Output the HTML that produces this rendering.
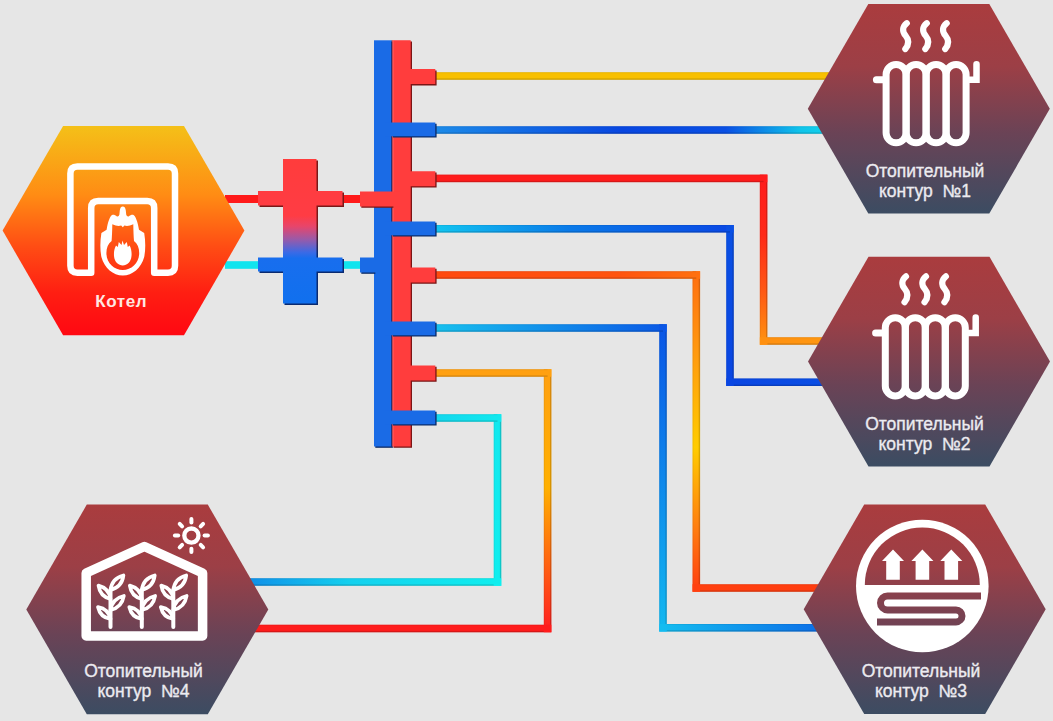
<!DOCTYPE html>
<html><head><meta charset="utf-8"><style>
html,body{margin:0;padding:0;background:#e6e6e6;overflow:hidden;}
svg{display:block;}
</style></head><body>
<svg width="1053" height="721" viewBox="0 0 1053 721">
<defs><linearGradient id="p1_0" gradientUnits="userSpaceOnUse" x1="436" y1="76" x2="850" y2="76"><stop offset="0" stop-color="#f8c000"/><stop offset="1" stop-color="#f8c000"/></linearGradient><linearGradient id="p2_0" gradientUnits="userSpaceOnUse" x1="436" y1="130" x2="850" y2="130"><stop offset="0" stop-color="#1c8ae8"/><stop offset="0.45" stop-color="#0846e0"/><stop offset="0.7" stop-color="#0a50e4"/><stop offset="0.88" stop-color="#10c4ea"/><stop offset="1" stop-color="#14dcec"/></linearGradient><linearGradient id="p3_0" gradientUnits="userSpaceOnUse" x1="436" y1="178.4" x2="763.6" y2="178.4"><stop offset="0" stop-color="#ff1c1c"/><stop offset="1" stop-color="#ff1c1c"/></linearGradient><linearGradient id="p3_1" gradientUnits="userSpaceOnUse" x1="763.6" y1="178.4" x2="763.6" y2="341"><stop offset="0" stop-color="#ff1c1c"/><stop offset="0.35" stop-color="#ff2a18"/><stop offset="0.7" stop-color="#ff5a14"/><stop offset="1" stop-color="#ff9010"/></linearGradient><linearGradient id="p3_2" gradientUnits="userSpaceOnUse" x1="763.6" y1="341" x2="850" y2="341"><stop offset="0" stop-color="#ff9010"/><stop offset="1" stop-color="#ff9a10"/></linearGradient><linearGradient id="p4_0" gradientUnits="userSpaceOnUse" x1="436" y1="228.8" x2="730" y2="228.8"><stop offset="0" stop-color="#12c4f0"/><stop offset="0.45" stop-color="#0a7ae8"/><stop offset="1" stop-color="#0a48e4"/></linearGradient><linearGradient id="p4_1" gradientUnits="userSpaceOnUse" x1="730" y1="228.8" x2="730" y2="382.2"><stop offset="0" stop-color="#0a50e4"/><stop offset="1" stop-color="#0a46e2"/></linearGradient><linearGradient id="p4_2" gradientUnits="userSpaceOnUse" x1="730" y1="382.2" x2="850" y2="382.2"><stop offset="0" stop-color="#0a46e2"/><stop offset="1" stop-color="#0a50e4"/></linearGradient><linearGradient id="p5_0" gradientUnits="userSpaceOnUse" x1="436" y1="275" x2="696.3" y2="275"><stop offset="0" stop-color="#ff4a10"/><stop offset="0.7" stop-color="#ff5410"/><stop offset="1" stop-color="#ff7010"/></linearGradient><linearGradient id="p5_1" gradientUnits="userSpaceOnUse" x1="696.3" y1="275" x2="696.3" y2="588"><stop offset="0" stop-color="#ff7010"/><stop offset="0.25" stop-color="#ff9a10"/><stop offset="0.55" stop-color="#ffcc00"/><stop offset="0.8" stop-color="#ff8010"/><stop offset="1" stop-color="#ff4010"/></linearGradient><linearGradient id="p5_2" gradientUnits="userSpaceOnUse" x1="696.3" y1="588" x2="850" y2="588"><stop offset="0" stop-color="#ff4010"/><stop offset="1" stop-color="#ff3c10"/></linearGradient><linearGradient id="p6_0" gradientUnits="userSpaceOnUse" x1="436" y1="328" x2="663" y2="328"><stop offset="0" stop-color="#18c0ee"/><stop offset="1" stop-color="#0a5ae6"/></linearGradient><linearGradient id="p6_1" gradientUnits="userSpaceOnUse" x1="663" y1="328" x2="663" y2="627.8"><stop offset="0" stop-color="#0a56e6"/><stop offset="1" stop-color="#12b8f0"/></linearGradient><linearGradient id="p6_2" gradientUnits="userSpaceOnUse" x1="663" y1="627.8" x2="850" y2="627.8"><stop offset="0" stop-color="#14bcf0"/><stop offset="1" stop-color="#0a60e6"/></linearGradient><linearGradient id="p7_0" gradientUnits="userSpaceOnUse" x1="436" y1="373" x2="547.6" y2="373"><stop offset="0" stop-color="#ffa010"/><stop offset="1" stop-color="#ffa010"/></linearGradient><linearGradient id="p7_1" gradientUnits="userSpaceOnUse" x1="547.6" y1="373" x2="547.6" y2="628.5"><stop offset="0" stop-color="#ffa010"/><stop offset="0.45" stop-color="#ffb000"/><stop offset="1" stop-color="#ff2020"/></linearGradient><linearGradient id="p7_2" gradientUnits="userSpaceOnUse" x1="547.6" y1="628.5" x2="250" y2="628.5"><stop offset="0" stop-color="#ff1c1c"/><stop offset="1" stop-color="#ff1c1c"/></linearGradient><linearGradient id="p8_0" gradientUnits="userSpaceOnUse" x1="436" y1="418" x2="497.5" y2="418"><stop offset="0" stop-color="#14d8ee"/><stop offset="1" stop-color="#12e8ee"/></linearGradient><linearGradient id="p8_1" gradientUnits="userSpaceOnUse" x1="497.5" y1="418" x2="497.5" y2="582"><stop offset="0" stop-color="#12e8ee"/><stop offset="1" stop-color="#10eeee"/></linearGradient><linearGradient id="p8_2" gradientUnits="userSpaceOnUse" x1="497.5" y1="582" x2="250" y2="582"><stop offset="0" stop-color="#10eeee"/><stop offset="0.6" stop-color="#14d0ee"/><stop offset="1" stop-color="#1090e8"/></linearGradient><linearGradient id="hexBoil" gradientUnits="userSpaceOnUse" x1="0" y1="126" x2="0" y2="335"><stop offset="0" stop-color="#f4c018"/><stop offset="0.33" stop-color="#ff8c14"/><stop offset="0.58" stop-color="#ff4c14"/><stop offset="0.8" stop-color="#ff1e12"/><stop offset="1" stop-color="#ff0812"/></linearGradient><linearGradient id="hexC1" gradientUnits="userSpaceOnUse" x1="0" y1="4" x2="0" y2="213"><stop offset="0" stop-color="#aa3c3e"/><stop offset="0.3" stop-color="#9c3f46"/><stop offset="0.62" stop-color="#6a4356"/><stop offset="1" stop-color="#3c4c62"/></linearGradient><linearGradient id="hexC2" gradientUnits="userSpaceOnUse" x1="0" y1="256" x2="0" y2="465"><stop offset="0" stop-color="#aa3c3e"/><stop offset="0.3" stop-color="#9c3f46"/><stop offset="0.62" stop-color="#6a4356"/><stop offset="1" stop-color="#3c4c62"/></linearGradient><linearGradient id="hexC3" gradientUnits="userSpaceOnUse" x1="0" y1="504" x2="0" y2="714"><stop offset="0" stop-color="#aa3c3e"/><stop offset="0.3" stop-color="#9c3f46"/><stop offset="0.62" stop-color="#6a4356"/><stop offset="1" stop-color="#3c4c62"/></linearGradient><linearGradient id="hexC4" gradientUnits="userSpaceOnUse" x1="0" y1="504" x2="0" y2="714"><stop offset="0" stop-color="#aa3c3e"/><stop offset="0.3" stop-color="#9c3f46"/><stop offset="0.62" stop-color="#6a4356"/><stop offset="1" stop-color="#3c4c62"/></linearGradient><linearGradient id="sepd" gradientUnits="userSpaceOnUse" x1="0" y1="159" x2="0" y2="305"><stop offset="0" stop-color="#7a1818"/><stop offset="0.45" stop-color="#7a1818"/><stop offset="0.64" stop-color="#0a2a70"/><stop offset="1" stop-color="#0a2a70"/></linearGradient><linearGradient id="sep" gradientUnits="userSpaceOnUse" x1="0" y1="159" x2="0" y2="305"><stop offset="0" stop-color="#ff3c3c"/><stop offset="0.39" stop-color="#ff3c44"/><stop offset="0.46" stop-color="#e8456a"/><stop offset="0.55" stop-color="#9a5aa8"/><stop offset="0.64" stop-color="#3a6ae6"/><stop offset="0.68" stop-color="#186eee"/><stop offset="1" stop-color="#1070ee"/></linearGradient></defs>
<rect width="1053" height="721" fill="#e6e6e6"/>
<rect x="436.00" y="72.20" width="414.00" height="7.6" fill="url(#p1_0)"/>
<rect x="436.00" y="126.20" width="414.00" height="7.6" fill="url(#p2_0)"/>
<rect x="436.00" y="174.60" width="331.40" height="7.6" fill="url(#p3_0)"/>
<rect x="759.80" y="174.60" width="7.6" height="170.20" fill="url(#p3_1)"/>
<rect x="759.80" y="337.20" width="90.20" height="7.6" fill="url(#p3_2)"/>
<rect x="436.00" y="225.00" width="297.80" height="7.6" fill="url(#p4_0)"/>
<rect x="726.20" y="225.00" width="7.6" height="161.00" fill="url(#p4_1)"/>
<rect x="726.20" y="378.40" width="123.80" height="7.6" fill="url(#p4_2)"/>
<rect x="436.00" y="271.20" width="264.10" height="7.6" fill="url(#p5_0)"/>
<rect x="692.50" y="271.20" width="7.6" height="320.60" fill="url(#p5_1)"/>
<rect x="692.50" y="584.20" width="157.50" height="7.6" fill="url(#p5_2)"/>
<rect x="436.00" y="324.20" width="230.80" height="7.6" fill="url(#p6_0)"/>
<rect x="659.20" y="324.20" width="7.6" height="307.40" fill="url(#p6_1)"/>
<rect x="659.20" y="624.00" width="190.80" height="7.6" fill="url(#p6_2)"/>
<rect x="436.00" y="369.20" width="115.40" height="7.6" fill="url(#p7_0)"/>
<rect x="543.80" y="369.20" width="7.6" height="263.10" fill="url(#p7_1)"/>
<rect x="250.00" y="624.70" width="301.40" height="7.6" fill="url(#p7_2)"/>
<rect x="436.00" y="414.20" width="65.30" height="7.6" fill="url(#p8_0)"/>
<rect x="493.70" y="414.20" width="7.6" height="171.60" fill="url(#p8_1)"/>
<rect x="250.00" y="578.20" width="251.30" height="7.6" fill="url(#p8_2)"/><rect x="436.00" y="78.40" width="414.00" height="1.4" fill="#000" opacity="0.16"/>
<rect x="436.00" y="72.20" width="414.00" height="1" fill="#000" opacity="0.06"/>
<rect x="436.00" y="132.40" width="414.00" height="1.4" fill="#000" opacity="0.16"/>
<rect x="436.00" y="126.20" width="414.00" height="1" fill="#000" opacity="0.06"/>
<rect x="436.00" y="180.80" width="327.60" height="1.4" fill="#000" opacity="0.16"/>
<rect x="436.00" y="174.60" width="327.60" height="1" fill="#000" opacity="0.06"/>
<rect x="766.00" y="182.20" width="1.4" height="155.00" fill="#000" opacity="0.16"/>
<rect x="759.80" y="182.20" width="1" height="155.00" fill="#000" opacity="0.06"/>
<rect x="767.40" y="343.40" width="82.60" height="1.4" fill="#000" opacity="0.16"/>
<rect x="767.40" y="337.20" width="82.60" height="1" fill="#000" opacity="0.06"/>
<rect x="436.00" y="231.20" width="294.00" height="1.4" fill="#000" opacity="0.16"/>
<rect x="436.00" y="225.00" width="294.00" height="1" fill="#000" opacity="0.06"/>
<rect x="732.40" y="232.60" width="1.4" height="145.80" fill="#000" opacity="0.16"/>
<rect x="726.20" y="232.60" width="1" height="145.80" fill="#000" opacity="0.06"/>
<rect x="733.80" y="384.60" width="116.20" height="1.4" fill="#000" opacity="0.16"/>
<rect x="733.80" y="378.40" width="116.20" height="1" fill="#000" opacity="0.06"/>
<rect x="436.00" y="277.40" width="260.30" height="1.4" fill="#000" opacity="0.16"/>
<rect x="436.00" y="271.20" width="260.30" height="1" fill="#000" opacity="0.06"/>
<rect x="698.70" y="278.80" width="1.4" height="305.40" fill="#000" opacity="0.16"/>
<rect x="692.50" y="278.80" width="1" height="305.40" fill="#000" opacity="0.06"/>
<rect x="700.10" y="590.40" width="149.90" height="1.4" fill="#000" opacity="0.16"/>
<rect x="700.10" y="584.20" width="149.90" height="1" fill="#000" opacity="0.06"/>
<rect x="436.00" y="330.40" width="227.00" height="1.4" fill="#000" opacity="0.16"/>
<rect x="436.00" y="324.20" width="227.00" height="1" fill="#000" opacity="0.06"/>
<rect x="665.40" y="331.80" width="1.4" height="292.20" fill="#000" opacity="0.16"/>
<rect x="659.20" y="331.80" width="1" height="292.20" fill="#000" opacity="0.06"/>
<rect x="666.80" y="630.20" width="183.20" height="1.4" fill="#000" opacity="0.16"/>
<rect x="666.80" y="624.00" width="183.20" height="1" fill="#000" opacity="0.06"/>
<rect x="436.00" y="375.40" width="111.60" height="1.4" fill="#000" opacity="0.16"/>
<rect x="436.00" y="369.20" width="111.60" height="1" fill="#000" opacity="0.06"/>
<rect x="550.00" y="376.80" width="1.4" height="247.90" fill="#000" opacity="0.16"/>
<rect x="543.80" y="376.80" width="1" height="247.90" fill="#000" opacity="0.06"/>
<rect x="250.00" y="630.90" width="293.80" height="1.4" fill="#000" opacity="0.16"/>
<rect x="250.00" y="624.70" width="293.80" height="1" fill="#000" opacity="0.06"/>
<rect x="436.00" y="420.40" width="61.50" height="1.4" fill="#000" opacity="0.16"/>
<rect x="436.00" y="414.20" width="61.50" height="1" fill="#000" opacity="0.06"/>
<rect x="499.90" y="421.80" width="1.4" height="156.40" fill="#000" opacity="0.16"/>
<rect x="493.70" y="421.80" width="1" height="156.40" fill="#000" opacity="0.06"/>
<rect x="250.00" y="584.40" width="243.70" height="1.4" fill="#000" opacity="0.16"/>
<rect x="250.00" y="578.20" width="243.70" height="1" fill="#000" opacity="0.06"/>
<rect x="225" y="195" width="40" height="8" fill="#ff1a1a"/>
<rect x="225" y="261.2" width="40" height="7.6" fill="#10e4ee"/>
<rect x="340" y="195" width="25" height="8" fill="#ff1a1a"/>
<rect x="340" y="261.2" width="25" height="7.6" fill="#10e4ee"/>
<path d="M283 159 H316.5 V191 H342.5 V205.5 H316.5 V257.6 H342.5 V271.5 H316.5 V303.5 H283 V271.5 H258 V257.6 H283 V205.5 H258 V191 H283 Z" fill="url(#sepd)" transform="translate(1.5,1.5)"/>
<path d="M283 159 H316.5 V191 H342.5 V205.5 H316.5 V257.6 H342.5 V271.5 H316.5 V303.5 H283 V271.5 H258 V257.6 H283 V205.5 H258 V191 H283 Z" fill="url(#sep)"/>
<rect x="375.3" y="41.599999999999994" width="17.6" height="406.2" fill="#0a2a66"/><rect x="374" y="40.3" width="17.6" height="406.2" fill="#1a6be6"/>
<path d="M392.2 40.3 H410.7 V69.1 H435.3 V84.1 H410.7 V171.2 H435.3 V186.2 H410.7 V267.5 H435.3 V282.5 H410.7 V365.5 H435.3 V380.5 H410.7 V446.5 H392.2 Z" fill="#7a1515" transform="translate(1.3,1.3)"/>
<path d="M392.2 40.3 H410.7 V69.1 H435.3 V84.1 H410.7 V171.2 H435.3 V186.2 H410.7 V267.5 H435.3 V282.5 H410.7 V365.5 H435.3 V380.5 H410.7 V446.5 H392.2 Z" fill="#ff3d3d"/>
<rect x="391.4" y="40.3" width="1" height="406.2" fill="#301030" opacity="0.7"/>
<rect x="392.4" y="40.3" width="1.2" height="406.2" fill="#ff8080" opacity="0.5"/>
<path d="M360 191.5 H392.2 V206.5 H360 Z" fill="#7a1515" transform="translate(1.3,1.3)"/>
<rect x="360" y="191.5" width="40" height="15" fill="#ff3d3d"/>
<path d="M360 257.5 H374 V272.5 H360 Z" fill="#0a2a66" transform="translate(1.3,1.3)"/>
<rect x="360" y="257.5" width="16" height="15" fill="#1a6be6"/>
<path d="M391.6 122.5 H435.3 V136.3 H391.6 Z" fill="#0a2a66" transform="translate(1.3,1.3)"/>
<rect x="385" y="122.5" width="50.3" height="13.8" fill="#1a6be6"/>
<path d="M391.6 221.5 H435.3 V235.3 H391.6 Z" fill="#0a2a66" transform="translate(1.3,1.3)"/>
<rect x="385" y="221.5" width="50.3" height="13.8" fill="#1a6be6"/>
<path d="M391.6 321.5 H435.3 V335.3 H391.6 Z" fill="#0a2a66" transform="translate(1.3,1.3)"/>
<rect x="385" y="321.5" width="50.3" height="13.8" fill="#1a6be6"/>
<path d="M391.6 410.5 H435.3 V424.3 H391.6 Z" fill="#0a2a66" transform="translate(1.3,1.3)"/>
<rect x="385" y="410.5" width="50.3" height="13.8" fill="#1a6be6"/>
<polygon points="2.6,230.6 63.1,125.9 184.0,125.9 244.4,230.6 184.0,335.3 63.1,335.3" fill="url(#hexBoil)"/><polygon points="807.8,108.8 868.3,4.0 989.3,4.0 1049.8,108.8 989.3,213.6 868.3,213.6" fill="url(#hexC1)"/><polygon points="808.0,361.6 868.5,256.8 989.5,256.8 1050.0,361.6 989.5,466.4 868.5,466.4" fill="url(#hexC2)"/><polygon points="803.7,609.3 864.2,504.5 985.2,504.5 1045.7,609.3 985.2,714.1 864.2,714.1" fill="url(#hexC3)"/><polygon points="26.3,609.4 86.8,504.6 207.8,504.6 268.3,609.4 207.8,714.2 86.8,714.2" fill="url(#hexC4)"/>
<path d="M91.2 272.8 H77.4 Q70.4 272.8 70.4 265.8 V173.6 Q70.4 166.6 77.4 166.6 H168 Q175 166.6 175 173.6 V265.8 Q175 272.8 168 272.8 H154.2 V207.9 Q154.2 200.9 147.2 200.9 H98.2 Q91.2 200.9 91.2 207.9 Z" stroke="#ffffff" stroke-width="6.5" fill="none" stroke-linejoin="round"/><path d="M122.8 206.4 C124.5 206.4 125.6 208 125.8 210.5 L126.2 214.5 C126.6 216 127.6 216.8 128.6 216.4 C130 215 131.5 214.6 133 214.7 C135.5 215.5 137.8 222 139 229.8 L144.2 233 C145.6 241 145.6 250 144.2 257 C141.2 268 132.5 275.5 122.8 275.5 C113.1 275.5 104.4 268 101.4 257 C100 250 100 241 101.4 233 L106.6 229.8 C107.8 222 110.1 215.5 112.6 214.7 C114.1 214.6 115.6 215 117 216.4 C118 216.8 119 216 119.4 214.5 L119.8 210.5 C120 208 121.1 206.4 122.8 206.4 Z" fill="#ffffff"/><path d="M112.3 224.3 Q117.5 226.8 121.2 225.6 L122.8 227.2 L124.4 225.6 Q128.1 226.8 133.3 224.3 C133.4 231 133.6 237 134 241 C137.5 243.5 139.2 247.5 139.2 253 C139.2 263 131.5 270 122.8 270 C114.1 270 106.4 263 106.4 253 C106.4 247.5 108.1 243.5 111.6 241 C112 237 112.2 231 112.3 224.3 Z" fill="url(#hexBoil)"/><path d="M122.5 240.5 L124 245 L126.8 242 L127.8 247 L129.6 245.5 C131.5 249 131.8 253 131.5 256 C131 262 127 265.5 122.8 265.5 C118.5 265.5 114.5 262 114 256 C113.8 253 114 249 116 245.5 L117.8 247 L118.8 242 L121.5 245 Z" fill="#ffffff"/><text x="121.2" y="306.9" text-anchor="middle" font-family="&quot;Liberation Sans&quot;, sans-serif" font-size="17" font-weight="bold" letter-spacing="0.6" fill="#ffe8e2">Котел</text><g transform="translate(0,0)"><path d="M906.8 23.2 C902.3 27 902.0 31.5 905.5 35.5 C909.3 40 909.0 44.5 905.3 49" stroke="#ffffff" stroke-width="6.2" fill="none" stroke-linecap="round"/><path d="M926.8 23.2 C922.3 27 922.0 31.5 925.5 35.5 C929.3 40 929.0 44.5 925.3 49" stroke="#ffffff" stroke-width="6.2" fill="none" stroke-linecap="round"/><path d="M946.7 23.2 C942.2 27 941.9000000000001 31.5 945.4000000000001 35.5 C949.2 40 948.9000000000001 44.5 945.2 49" stroke="#ffffff" stroke-width="6.2" fill="none" stroke-linecap="round"/><rect x="886.1" y="64.5" width="20" height="78.3" rx="10" stroke="#ffffff" stroke-width="7" fill="none"/><rect x="906.1" y="64.5" width="20" height="78.3" rx="10" stroke="#ffffff" stroke-width="7" fill="none"/><rect x="926.1" y="64.5" width="20" height="78.3" rx="10" stroke="#ffffff" stroke-width="7" fill="none"/><rect x="946.1" y="64.5" width="20" height="78.3" rx="10" stroke="#ffffff" stroke-width="7" fill="none"/><path d="M876.4 79.7 H885" stroke="#ffffff" stroke-width="7" fill="none" stroke-linecap="round"/><path d="M968 79.7 H976.5 V64.3" stroke="#ffffff" stroke-width="6.5" fill="none" stroke-linecap="round" stroke-linejoin="miter"/></g><g transform="translate(-0.8,253.2)"><path d="M906.8 23.2 C902.3 27 902.0 31.5 905.5 35.5 C909.3 40 909.0 44.5 905.3 49" stroke="#ffffff" stroke-width="6.2" fill="none" stroke-linecap="round"/><path d="M926.8 23.2 C922.3 27 922.0 31.5 925.5 35.5 C929.3 40 929.0 44.5 925.3 49" stroke="#ffffff" stroke-width="6.2" fill="none" stroke-linecap="round"/><path d="M946.7 23.2 C942.2 27 941.9000000000001 31.5 945.4000000000001 35.5 C949.2 40 948.9000000000001 44.5 945.2 49" stroke="#ffffff" stroke-width="6.2" fill="none" stroke-linecap="round"/><rect x="886.1" y="64.5" width="20" height="78.3" rx="10" stroke="#ffffff" stroke-width="7" fill="none"/><rect x="906.1" y="64.5" width="20" height="78.3" rx="10" stroke="#ffffff" stroke-width="7" fill="none"/><rect x="926.1" y="64.5" width="20" height="78.3" rx="10" stroke="#ffffff" stroke-width="7" fill="none"/><rect x="946.1" y="64.5" width="20" height="78.3" rx="10" stroke="#ffffff" stroke-width="7" fill="none"/><path d="M876.4 79.7 H885" stroke="#ffffff" stroke-width="7" fill="none" stroke-linecap="round"/><path d="M968 79.7 H976.5 V64.3" stroke="#ffffff" stroke-width="6.5" fill="none" stroke-linecap="round" stroke-linejoin="miter"/></g><text x="925" y="177.3" text-anchor="middle" font-family="&quot;Liberation Sans&quot;, sans-serif" font-size="17.5" fill="#ecebf0" stroke="#ecebf0" stroke-width="0.35">Отопительный</text><text x="925" y="197.3" text-anchor="middle" font-family="&quot;Liberation Sans&quot;, sans-serif" font-size="17.5" fill="#ecebf0" stroke="#ecebf0" stroke-width="0.35" xml:space="preserve">контур  №1</text><text x="924.5" y="429.8" text-anchor="middle" font-family="&quot;Liberation Sans&quot;, sans-serif" font-size="17.5" fill="#ecebf0" stroke="#ecebf0" stroke-width="0.35">Отопительный</text><text x="924.5" y="449.8" text-anchor="middle" font-family="&quot;Liberation Sans&quot;, sans-serif" font-size="17.5" fill="#ecebf0" stroke="#ecebf0" stroke-width="0.35" xml:space="preserve">контур  №2</text><text x="921" y="677" text-anchor="middle" font-family="&quot;Liberation Sans&quot;, sans-serif" font-size="17.5" fill="#ecebf0" stroke="#ecebf0" stroke-width="0.35">Отопительный</text><text x="921" y="697" text-anchor="middle" font-family="&quot;Liberation Sans&quot;, sans-serif" font-size="17.5" fill="#ecebf0" stroke="#ecebf0" stroke-width="0.35" xml:space="preserve">контур  №3</text><text x="143.5" y="677" text-anchor="middle" font-family="&quot;Liberation Sans&quot;, sans-serif" font-size="17.5" fill="#ecebf0" stroke="#ecebf0" stroke-width="0.35">Отопительный</text><text x="143.5" y="697" text-anchor="middle" font-family="&quot;Liberation Sans&quot;, sans-serif" font-size="17.5" fill="#ecebf0" stroke="#ecebf0" stroke-width="0.35" xml:space="preserve">контур  №4</text><circle cx="922.3" cy="586" r="66.3" fill="#ffffff"/><path d="M864.8 585 A57.5 57.5 0 0 1 979.8 585 Z" fill="url(#hexC3)"/><path d="M893 549.5 L904 561 H899.8 V579.7 H886.2 V561 H882 Z" fill="#ffffff"/><path d="M922.4 549.5 L933.4 561 H929.1999999999999 V579.7 H915.6 V561 H911.4 Z" fill="#ffffff"/><path d="M951.3 549.5 L962.3 561 H958.0999999999999 V579.7 H944.5 V561 H940.3 Z" fill="#ffffff"/><path d="M981 595.9 H887.5 A7 7 0 0 0 887.5 609.9 H956 A6 6 0 0 1 956 621.9 H877" stroke="url(#hexC3)" stroke-width="7" fill="none"/><path d="M86.2 636 V573 L144.4 546.5 L202.6 573 V636 Z" stroke="#ffffff" stroke-width="9.5" fill="none" stroke-linejoin="round"/><circle cx="191.4" cy="535.6" r="7.1" stroke="#ffffff" stroke-width="4.3" fill="none"/><line x1="204.6" y1="535.6" x2="207.9" y2="535.6" stroke="#ffffff" stroke-width="4" stroke-linecap="round"/><line x1="200.7" y1="544.9" x2="203.1" y2="547.3" stroke="#ffffff" stroke-width="4" stroke-linecap="round"/><line x1="191.4" y1="548.8" x2="191.4" y2="552.1" stroke="#ffffff" stroke-width="4" stroke-linecap="round"/><line x1="182.1" y1="544.9" x2="179.7" y2="547.3" stroke="#ffffff" stroke-width="4" stroke-linecap="round"/><line x1="178.2" y1="535.6" x2="174.9" y2="535.6" stroke="#ffffff" stroke-width="4" stroke-linecap="round"/><line x1="182.1" y1="526.3" x2="179.7" y2="523.9" stroke="#ffffff" stroke-width="4" stroke-linecap="round"/><line x1="191.4" y1="522.4" x2="191.4" y2="519.1" stroke="#ffffff" stroke-width="4" stroke-linecap="round"/><line x1="200.7" y1="526.3" x2="203.1" y2="523.9" stroke="#ffffff" stroke-width="4" stroke-linecap="round"/><path d="M110.5 627 V590" stroke="#ffffff" stroke-width="4" stroke-linecap="round"/><path d="M110.5 590 Q112.0 578.4 123.4 575.5 Q121.9 587.1 110.5 590 Z" stroke="#ffffff" stroke-width="3.7" fill="none" stroke-linejoin="round"/><path d="M110.5 599 Q99.9 596.3 98.5 585.5 Q109.1 588.2 110.5 599 Z" stroke="#ffffff" stroke-width="3.7" fill="none" stroke-linejoin="round"/><path d="M110.5 610 Q112.4 598.5 123.8 596 Q121.9 607.5 110.5 610 Z" stroke="#ffffff" stroke-width="3.7" fill="none" stroke-linejoin="round"/><path d="M110.5 619 Q100.2 617.2 98.0 607 Q108.3 608.8 110.5 619 Z" stroke="#ffffff" stroke-width="3.7" fill="none" stroke-linejoin="round"/><path d="M141.8 627 V590" stroke="#ffffff" stroke-width="4" stroke-linecap="round"/><path d="M141.8 590 Q143.3 578.4 154.70000000000002 575.5 Q153.2 587.1 141.8 590 Z" stroke="#ffffff" stroke-width="3.7" fill="none" stroke-linejoin="round"/><path d="M141.8 599 Q131.2 596.3 129.8 585.5 Q140.4 588.2 141.8 599 Z" stroke="#ffffff" stroke-width="3.7" fill="none" stroke-linejoin="round"/><path d="M141.8 610 Q143.7 598.5 155.10000000000002 596 Q153.2 607.5 141.8 610 Z" stroke="#ffffff" stroke-width="3.7" fill="none" stroke-linejoin="round"/><path d="M141.8 619 Q131.5 617.2 129.3 607 Q139.6 608.8 141.8 619 Z" stroke="#ffffff" stroke-width="3.7" fill="none" stroke-linejoin="round"/><path d="M173.3 627 V590" stroke="#ffffff" stroke-width="4" stroke-linecap="round"/><path d="M173.3 590 Q174.8 578.4 186.20000000000002 575.5 Q184.7 587.1 173.3 590 Z" stroke="#ffffff" stroke-width="3.7" fill="none" stroke-linejoin="round"/><path d="M173.3 599 Q162.7 596.3 161.3 585.5 Q171.9 588.2 173.3 599 Z" stroke="#ffffff" stroke-width="3.7" fill="none" stroke-linejoin="round"/><path d="M173.3 610 Q175.2 598.5 186.60000000000002 596 Q184.7 607.5 173.3 610 Z" stroke="#ffffff" stroke-width="3.7" fill="none" stroke-linejoin="round"/><path d="M173.3 619 Q163.0 617.2 160.8 607 Q171.1 608.8 173.3 619 Z" stroke="#ffffff" stroke-width="3.7" fill="none" stroke-linejoin="round"/>
</svg>
</body></html>
